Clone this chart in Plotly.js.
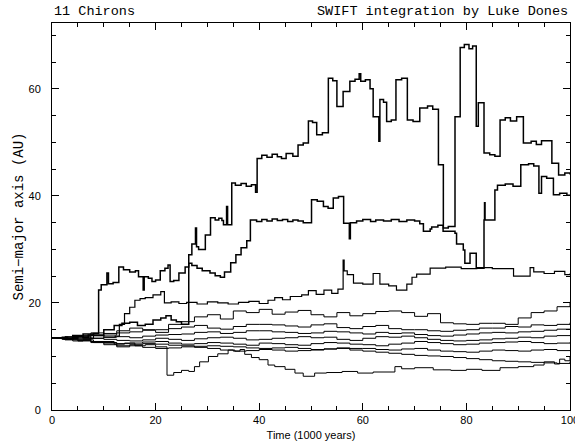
<!DOCTYPE html>
<html>
<head>
<meta charset="utf-8">
<script src="https://cdn.plot.ly/plotly-3.0.1.min.js"></script>
<style>html,body{margin:0;padding:0;background:#fff}#chart{width:575px;height:448px}</style>
</head>
<body>
<div id="chart"></div>
<script>
// Curve A (highest)
var tA = [0,1,2,3,4,5,6,7,8,9.0,9.5,10.6,10.9,11.8,12.9,13.8,15.0,16.1,16.7,17.6,17.8,18.6,19.3,20.0,20.9,21.8,22.4,22.8,23.5,24.5,25.7,26.4,27.0,27.7,27.9,28.3,29.6,30.6,31.5,32.2,32.8,33.1,33.7,33.9,34.7,35.4,36.5,37.5,38.5,39.3,39.6,40.5,41.5,42.5,43.5,44.3,45.2,46.5,47.5,48.5,49.5,50.3,51.1,52.2,53.35,54.2,55.0,56.2,57.5,58.5,59.3,59.6,60.5,61.4,62.0,63.1,63.3,64.0,64.6,65.5,66.4,67.5,68.6,69.7,71.0,72.5,73.5,74.6,75.55,76.5,77.8,78.8,79.6,80.5,81.2,81.9,82.3,83.4,84.5,85.5,86.5,87.5,88.5,89.7,91.0,92.5,93.5,94.5,96.5,97.8,99.0,100];
var aA = [13.5,13.4,13.6,13.2,13.5,13.8,13.6,14.0,14.3,22.4,23.4,25.6,23.6,23.8,26.7,26.2,25.8,26.0,24.9,22.4,24.9,24.6,24.0,24.3,26.0,26.5,27.1,24.0,24.2,25.6,26.7,29.0,31.0,34.0,30.5,30.0,32.7,35.9,35.5,35.8,35.4,34.6,38.0,34.6,42.4,42.0,42.3,41.8,42.1,40.7,47.0,47.6,47.2,47.8,47.3,47.0,47.9,47.4,49.5,49.9,54.0,53.7,51.4,51.8,62.0,61.5,56.7,59.5,61.4,61.8,62.8,61.4,61.7,60.0,54.8,50.2,58.0,57.5,53.9,54.2,61.7,62.0,54.2,53.9,56.4,56.8,56.2,45.8,34.0,34.3,54.8,67.7,68.3,67.5,68.0,53.0,57.4,48.0,47.7,47.4,54.2,54.6,54.0,54.8,49.9,50.2,49.6,50.3,46.1,43.9,44.3,44.0];

// Curve B (second highest)
var tB = [0,2,4,6,8,10,12,13.5,15,16.5,18,19.5,21,22,23,24,25,26.4,27,28,29,30.5,31.5,32.5,33.3,34.5,35.5,36.5,37.6,38.3,39.5,40.5,41.5,42.5,43.5,44.5,45.5,46.5,47.5,48.5,50.1,51.2,52.4,53.3,54.3,55.3,56.3,57.4,57.6,58.8,60,61.5,62.5,64,65.5,67,68.5,70,71,71.7,73,73.3,74.5,75.5,77.8,78.1,79.4,79.7,80.7,81.9,83.4,83.5,83.6,85.5,86,87.5,89,90.5,92,93,94,94.5,95.5,96.8,98,99.4,100];
var aB = [13.5,13.4,13.9,14.2,14.0,15.0,15.8,16.2,16.4,15.8,16.0,16.8,17.2,17.6,16.8,16.5,16.0,27.4,27.0,26.5,26.0,25.6,25.1,24.8,25.8,27.5,29.0,30.3,31.6,35.5,35.2,35.6,35.3,35.7,35.4,35.6,35.2,35.5,35.3,35.0,39.3,39.0,38.0,37.7,39.6,39.9,34.9,32.0,35.0,35.3,35.6,35.2,35.5,35.3,35.6,35.2,35.5,35.3,34.8,33.4,33.8,34.2,34.5,33.4,33.0,31.0,29.9,27.4,29.3,26.5,35.5,38.7,35.5,41.1,42.0,42.2,41.8,45.8,46.0,45.6,40.5,43.6,43.3,40.2,40.5,40.1,40.2];

// Curve C (rises to ~20, later ~25)
var tC = [0,2,4,6,8,10,12.2,13,14,15,16,17,18,19.5,21,21.7,23,24.5,26,28,30,32,34,36,38,40,41.7,43,44.5,46,48.2,49.5,51,52.5,54,55.2,56.2,56.4,57,58.2,60,62,63.3,65,66.5,68.5,69.5,70.4,73,76,79,82,85,89.1,92.3,93,95,97,99,100];
var aC = [13.5,13.3,13.7,13.4,13.9,13.6,13.8,16.0,18.0,19.2,20.5,20.8,21.0,21.5,22.1,20.0,20.2,19.9,20.1,19.8,20.2,20.0,19.8,20.1,20.3,19.9,20.5,21.0,20.6,21.2,21.5,22.3,21.6,22.4,21.8,22.6,28.0,26.0,25.3,23.7,23.5,25.5,23.5,23.2,22.4,23.5,24.8,25.4,26.5,26.7,26.4,26.6,26.4,25.0,26.6,25.8,25.5,25.9,25.3,25.5];

// Curve F (lowest)
var tF = [0,2,4,6,8,10,12,14,16,18,20,22.2,23.5,25,26.4,27.5,28.5,30.2,32,34,35.3,36.3,37.2,38.5,40,41.7,43,45,46.9,48.5,50.7,53,56,59,62,66.2,67.5,70,73.6,77,80,83,86.5,90,93,95,97,98,99,100];
var aF = [13.5,13.2,12.9,13.1,12.6,12.8,12.3,12.5,12.0,12.2,11.8,6.5,7.0,7.4,7.2,8.1,9.0,10.0,10.5,11.2,11.0,11.3,10.4,9.8,9.4,8.4,8.1,7.6,6.9,6.3,6.9,7.0,7.2,6.9,7.1,8.1,7.7,7.9,7.5,7.4,7.6,7.4,7.9,8.1,8.4,9.0,8.6,9.5,9.2,10.0];

// Bundle curves
var tG = [0,2.5,5,7.5,10,12.5,15,17.5,20,22.5,25,27.5,30,32.5,35,37.5,40,42.5,45,47.5,50,52.5,55,57.5,60,62.5,65,67.5,70,72.5,75,77.5,80,82.5,85,87.5,90,92.5,95,97.5,100];
var g1 = [13.5,13.7,13.9,14.4,14.3,14.8,15.3,15.0,15.0,16.0,16.5,17.4,17.8,17.0,18.5,18.2,18.8,17.9,18.3,18.6,17.8,17.4,18.2,17.6,18.0,18.4,18.5,18.2,17.5,18.0,16.3,16.1,16.0,16.2,16.2,16.0,17.2,18.2,18.5,19.3,20.2];
var g2 = [13.5,13.4,13.5,13.9,14.0,14.4,14.6,14.9,14.5,15.2,15.5,15.8,15.3,15.1,15.6,16.0,16.0,15.9,15.7,15.5,15.9,16.1,15.4,15.2,15.6,15.8,15.2,15.0,15.0,14.8,14.7,14.9,15.0,15.3,15.3,15.6,15.5,15.9,15.8,16.0,16.3];
var g3 = [13.5,13.3,13.2,13.4,13.6,13.7,13.5,13.8,14.0,14.1,14.2,14.5,14.6,14.3,14.5,14.8,14.8,14.6,14.5,14.3,14.4,14.7,14.6,14.4,14.2,14.5,14.3,14.4,14.1,13.9,13.8,14.0,14.2,14.4,14.5,14.4,14.6,14.7,14.9,15.1,15.0];
var g4 = [13.5,13.6,13.7,13.4,13.2,13.0,12.9,13.1,13.4,13.2,13.0,13.3,13.5,13.6,13.4,13.1,13.2,13.4,13.5,13.7,13.5,13.6,13.2,13.0,13.4,13.7,13.6,13.8,13.5,13.2,13.0,12.9,13.0,13.1,13.3,13.4,13.6,13.5,13.8,13.9,14.0];
var g5 = [13.5,13.2,13.0,12.8,12.6,12.4,12.5,12.7,12.8,12.5,12.3,12.4,12.6,12.5,12.3,12.1,12.5,12.4,12.2,12.1,12.4,12.6,12.5,12.3,12.2,12.0,12.3,12.5,12.8,12.6,12.4,12.2,12.3,12.5,12.6,12.7,12.8,12.6,12.4,12.5,12.6];
var g6 = [13.5,13.4,13.3,12.8,12.2,12.0,12.0,11.7,11.5,11.6,11.8,11.9,12.0,11.9,11.8,11.6,11.5,11.6,11.7,11.5,11.3,11.4,11.6,11.5,11.5,11.3,11.2,11.4,11.5,11.2,11.0,10.9,10.8,11.0,11.2,11.1,11.0,11.2,11.3,11.1,11.2];
var g7 = [13.5,13.1,12.9,12.6,12.5,11.8,12.2,12.4,12.3,12.1,12.0,11.7,11.5,11.2,11.0,11.1,11.3,11.2,11.0,11.1,11.2,11.4,11.5,11.2,11.0,10.8,10.6,10.4,10.2,10.1,10.0,9.8,9.6,9.4,9.2,9.1,9.0,8.9,8.8,8.7,9.0];

var xTickVals = [0,20,40,60,80,100];
var yTickVals = [0,20,40,60];

function tr(x, y, w, shape) {
  return {x: x, y: y, type: 'scatter', mode: 'lines',
    line: {color: '#000', width: w, shape: shape}, hoverinfo: 'skip', showlegend: false};
}
var data = [
  tr(tG, g1, 1, 'hv'), tr(tG, g2, 1, 'hv'), tr(tG, g3, 1, 'hv'), tr(tG, g4, 1, 'hv'),
  tr(tG, g5, 1, 'hv'), tr(tG, g6, 1, 'hv'), tr(tG, g7, 1, 'hv'),
  tr(tF, aF, 1, 'hv'), tr(tC, aC, 1.2, 'hv'), tr(tB, aB, 1.5, 'hv'), tr(tA, aA, 1.5, 'hv')
];
var axisCommon = {
  showgrid: false, zeroline: false, showline: true, linecolor: '#000', linewidth: 1,
  mirror: 'allticks', ticks: 'inside', ticklen: 7, tickwidth: 1, tickcolor: '#000',
  ticklabeloverflow: 'allow',
  tickfont: {family: 'Liberation Sans, Arial, sans-serif', size: 11, color: '#000'},
  minor: {dtick: 5, ticks: 'inside', ticklen: 4, tickwidth: 1, tickcolor: '#000', showgrid: false}
};
var layout = {
  width: 575, height: 448,
  margin: {l: 52, r: 5, t: 23, b: 38},
  paper_bgcolor: '#fff', plot_bgcolor: '#fff',
  xaxis: Object.assign({}, axisCommon, {
    range: [0, 100], tickvals: xTickVals, ticktext: xTickVals.map(String),
    title: {text: 'Time (1000 years)', font: {family: 'Liberation Sans, Arial, sans-serif', size: 11, color: '#000'}, standoff: 6}
  }),
  yaxis: Object.assign({}, axisCommon, {
    range: [0, 72.3], tickvals: yTickVals, ticktext: yTickVals.map(String), ticklabelstandoff: 8,
    title: {text: 'Semi\u2212major axis (AU)', font: {family: 'Liberation Mono, monospace', size: 14, color: '#000'}, standoff: 1}
  }),
  annotations: [
    {text: '11 Chirons', xref: 'paper', yref: 'paper', x: 0, y: 1, xanchor: 'left', yanchor: 'bottom', yshift: 2, showarrow: false,
     font: {family: 'Liberation Mono, monospace', size: 13.5, color: '#000'}},
    {text: 'SWIFT integration by Luke Dones', xref: 'paper', yref: 'paper', x: 1, y: 1, xanchor: 'right', yanchor: 'bottom', yshift: 2, showarrow: false,
     font: {family: 'Liberation Mono, monospace', size: 13.5, color: '#000'}}
  ]
};
Plotly.newPlot('chart', data, layout, {staticPlot: true, displayModeBar: false});
</script>
</body>
</html>
